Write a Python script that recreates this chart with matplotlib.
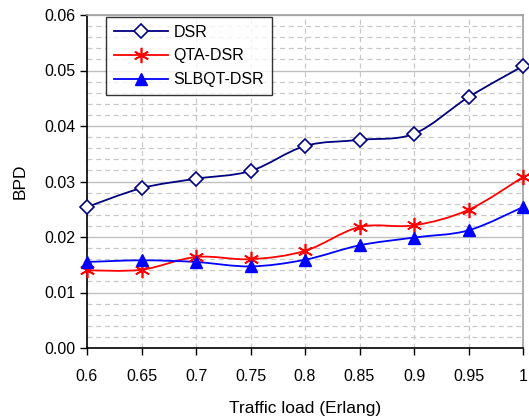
import numpy as np
import matplotlib
matplotlib.use("Agg")
import matplotlib.pyplot as plt
from matplotlib.ticker import MultipleLocator
from matplotlib.path import Path
from matplotlib.patches import PathPatch

plt.rcParams['font.family'] = ['Liberation Sans', 'DejaVu Sans']

x = [0.6, 0.65, 0.7, 0.75, 0.8, 0.85, 0.9, 0.95, 1.0]
dsr = [0.0254, 0.0288, 0.0305, 0.0319, 0.0364, 0.0375, 0.0386, 0.0452, 0.0508]
qta = [0.0140, 0.0141, 0.0164, 0.0160, 0.0175, 0.0218, 0.0221, 0.0249, 0.0308]
slbqt = [0.0155, 0.0158, 0.0155, 0.0147, 0.0159, 0.0185, 0.0199, 0.0212, 0.0254]
xticks = [0.6, 0.65, 0.7, 0.75, 0.8, 0.85, 0.9, 0.95, 1]
xticklabels = ['0.6', '0.65', '0.7', '0.75', '0.8', '0.85', '0.9', '0.95', '1']

fig = plt.figure(figsize=(5.29, 4.17), dpi=100)
ax = fig.add_axes([87/529, 1-348/417, (523-87)/529, (348-15)/417])


def smooth_path(ax, xs, ys, color, lw=1.3):
    # Excel-like smoothed line: cubic Bezier segments with Catmull-Rom tangents
    xs = np.asarray(xs, float)
    ys = np.asarray(ys, float)
    verts = [(xs[0], ys[0])]
    codes = [Path.MOVETO]
    n = len(xs)
    t = 1.0 / 6.0
    for i in range(n - 1):
        p0 = (xs[max(i - 1, 0)], ys[max(i - 1, 0)])
        p1 = (xs[i], ys[i])
        p2 = (xs[i + 1], ys[i + 1])
        p3 = (xs[min(i + 2, n - 1)], ys[min(i + 2, n - 1)])
        c1 = (p1[0] + (p2[0] - p0[0]) * t, p1[1] + (p2[1] - p0[1]) * t)
        c2 = (p2[0] - (p3[0] - p1[0]) * t, p2[1] - (p3[1] - p1[1]) * t)
        verts += [c1, c2, p2]
        codes += [Path.CURVE4] * 3
    patch = PathPatch(Path(verts, codes), facecolor='none', edgecolor=color,
                      lw=lw, zorder=3, clip_on=False)
    ax.add_patch(patch)


navy = '#000080'
red = '#ff0000'
blue = '#0000ff'

smooth_path(ax, x, dsr, navy)
smooth_path(ax, x, qta, red)
smooth_path(ax, x, slbqt, blue)

ax.plot(x, dsr, linestyle='none', marker='D', markersize=7, markerfacecolor='white',
        markeredgecolor=navy, markeredgewidth=1.2, zorder=4, clip_on=False)
ax.plot(x, qta, linestyle='none', marker=(6, 2, 0), markersize=11, markeredgecolor=red,
        markeredgewidth=1.2, zorder=4, clip_on=False)
ax.plot(x, slbqt, linestyle='none', marker='^', markersize=9, color=blue,
        markeredgecolor=blue, zorder=4, clip_on=False)

# legend proxies
h1, = ax.plot([], [], color=navy, lw=1.3, marker='D', markersize=7,
              markerfacecolor='white', markeredgecolor=navy, markeredgewidth=1.2)
h2, = ax.plot([], [], color=red, lw=1.3, marker=(6, 2, 0), markersize=11,
              markeredgecolor=red, markeredgewidth=1.2)
h3, = ax.plot([], [], color=blue, lw=1.3, marker='^', markersize=9)
leg = ax.legend([h1, h2, h3], ['DSR', 'QTA-DSR', 'SLBQT-DSR'], loc='upper left',
                bbox_to_anchor=(0.044, 0.995), fontsize=11.5, frameon=True,
                fancybox=False, edgecolor='black', handlelength=3.4,
                borderpad=0.5, labelspacing=0.55, handletextpad=0.3,
                borderaxespad=0)
leg.get_frame().set_linewidth(1.0)

ax.set_xlim(0.6, 1.0)
ax.set_ylim(0, 0.06)
ax.set_xticks(xticks)
ax.set_xticklabels(xticklabels)
ax.yaxis.set_major_locator(MultipleLocator(0.01))
ax.yaxis.set_minor_locator(MultipleLocator(0.002))
ax.yaxis.set_major_formatter(matplotlib.ticker.FormatStrFormatter('%.2f'))

ax.grid(True, which='major', axis='y', color='#c0c0c0', lw=1.0, linestyle='-')
ax.grid(True, which='minor', axis='y', color='#c8c8c8', lw=0.9, linestyle=(0, (4, 3)))
ax.grid(True, which='major', axis='x', color='#c8c8c8', lw=0.9, linestyle=(0, (4, 3)))
ax.set_axisbelow(True)

ax.tick_params(axis='both', which='major', labelsize=11.5, direction='out',
               length=5, width=1, color='black')
ax.tick_params(axis='y', which='minor', length=0)
ax.tick_params(axis='x', pad=10)

for s in ['top', 'right']:
    ax.spines[s].set_color('#a0a0a0')
    ax.spines[s].set_linewidth(1.2)
for s in ['left', 'bottom']:
    ax.spines[s].set_color('black')
    ax.spines[s].set_linewidth(1.2)

ax.set_xlabel('Traffic load (Erlang)', fontsize=12.5, labelpad=12)
ax.set_ylabel('BPD', fontsize=12.5, labelpad=12)

fig.savefig('out.png', dpi=100)
